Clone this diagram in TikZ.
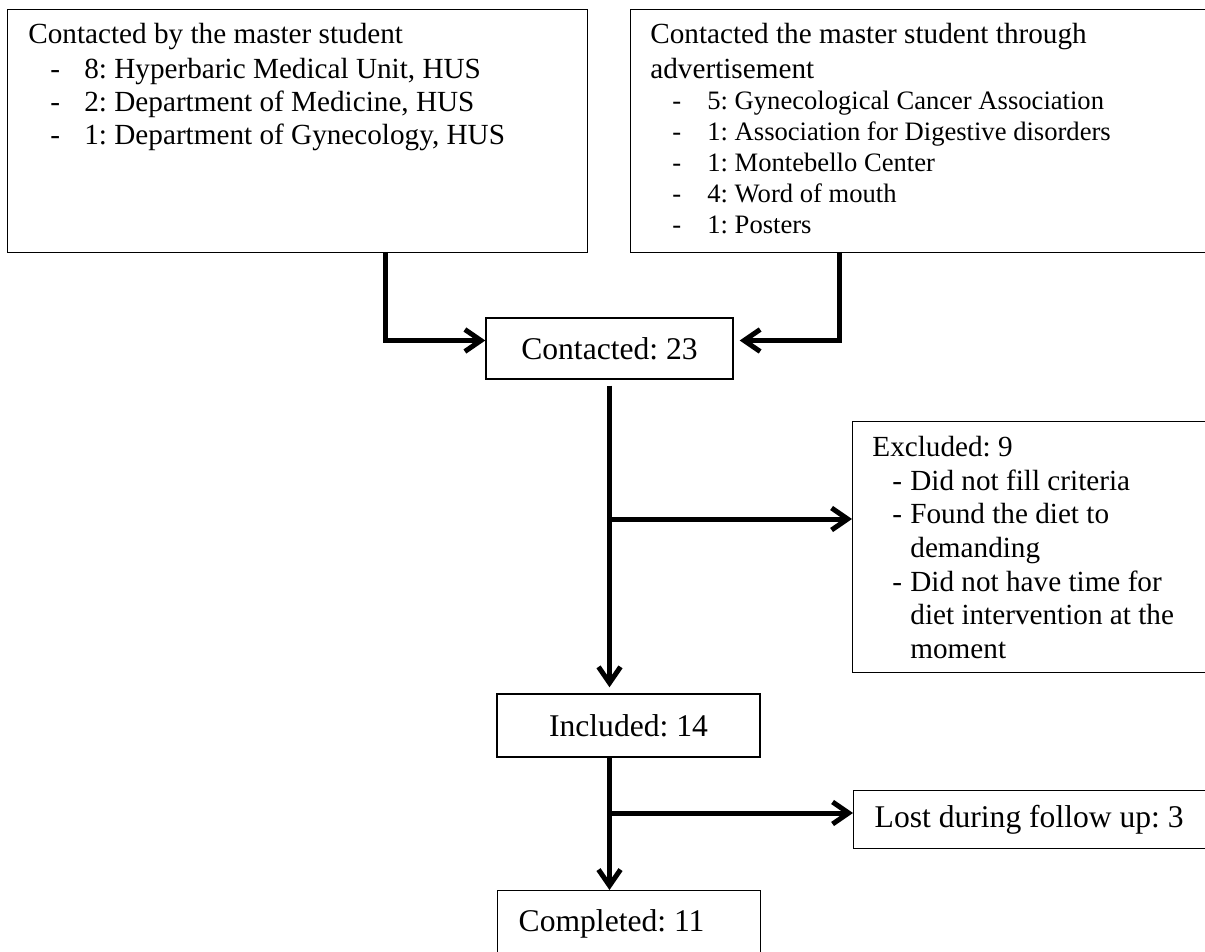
\documentclass[tikz,border=0pt]{standalone}
\usepackage{fontspec}
\setmainfont{Liberation Serif}
\frenchspacing
\usetikzlibrary{arrows.meta}

\begin{document}
\begin{tikzpicture}[x=.5pt,y=-.5pt,
  >={Straight Barb[length=8pt,width=11pt]},
  frame/.style={draw,line width=.7pt,inner sep=0pt,anchor=north west},
  stage/.style={draw,line width=.7pt,font=\fontsize{15.8}{18}\selectfont},
  notes/.style={inner sep=0pt,anchor=north west,align=left},
  flow/.style={->,line width=2.5pt}]
\def\da{\hspace*{11pt}\makebox[17pt][l]{-}}
\def\db{\hspace*{11pt}\makebox[17.5pt][l]{-}}
\def\dc{\hspace*{10pt}\makebox[9pt][l]{-}}
\useasboundingbox(0,0)rectangle(1205,952);
\node[frame,minimum width=290pt,minimum height=121.5pt](bymaster)at(7,9){};
\node[frame,minimum width=310pt,minimum height=121.5pt](byadvert)at(630,9){};
\node[notes,font=\fontsize{14.6}{16.5}\selectfont](bymastertxt)at(28,23){Contacted by the master student\\[1pt]
\da8: Hyperbaric Medical Unit, HUS\\
\da2: Department of Medicine, HUS\\
\da1: Department of Gynecology, HUS};
\node[notes,font=\fontsize{14.6}{17.5}\selectfont](byadverthead)at(650,23){Contacted the master student through\\advertisement};
\node[notes,font=\fontsize{13.3}{15.4}\selectfont](byadvertlist)at(650,91){\db5: Gynecological Cancer Association\\
\db1: Association for Digestive disorders\\
\db1: Montebello Center\\
\db4: Word of mouth\\
\db1: Posters};
\node[stage,minimum width=123.5pt,minimum height=30.5pt](contacted)at(609.5,348.5){Contacted: 23};
\node[frame,minimum width=200pt,minimum height=125.5pt](excluded)at(852,421){};
\node[notes,font=\fontsize{14.6}{16.8}\selectfont](excludedtxt)at(872,436){Excluded: 9\\
\dc Did not fill criteria\\
\dc Found the diet to\\
\hspace*{19pt}demanding\\
\dc Did not have time for\\
\hspace*{19pt}diet intervention at the\\
\hspace*{19pt}moment};
\node[stage,minimum width=131.5pt,minimum height=31.5pt](included)at(628.5,725.5){Included: 14};
\node[stage,anchor=north west,text width=179pt,inner xsep=10.5pt,minimum height=29pt,align=flush left](lost)at(853,790){Lost during follow up: 3};
\node[stage,anchor=north west,text width=110.5pt,inner xsep=10.5pt,inner ysep=9.5pt,text depth=20pt,align=flush left](completed)at(497,890){Completed: 11};
\coordinate(tapA)at(385,252);
\coordinate(tapB)at(839,252);
\coordinate(split1)at(609.5,519);
\coordinate(split2)at(609.5,813);
\draw[flow](tapA)|-([yshift=4pt]contacted.west);
\draw[flow,shorten >=3pt](tapB)|-([yshift=4pt]contacted.east);
\draw[flow,shorten <=3pt,shorten >=3pt](contacted.south)--(contacted.south|-included.north);
\draw[flow](split1)--(split1-|excluded.west);
\draw[flow](included.south-|split2)--(completed.north-|split2);
\draw[flow](split2)--(split2-|lost.west);
\end{tikzpicture}
\end{document}
